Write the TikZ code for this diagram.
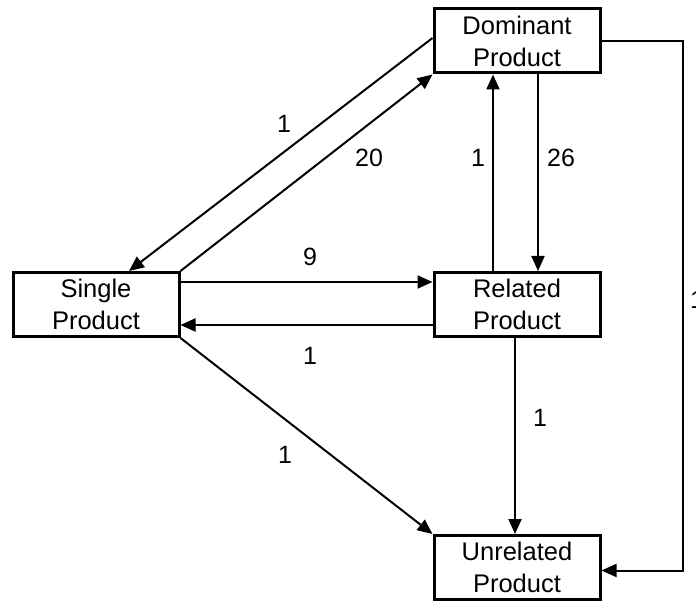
\documentclass[tikz,border=0pt]{standalone}
\usepackage{fontspec}
\setmainfont{Liberation Sans}
\usetikzlibrary{arrows.meta,calc}
\begin{document}
\begin{tikzpicture}[x=1pt,y=-1pt,
  box/.style={draw=black,line width=3pt,fill=white,minimum width=166pt,
    minimum height=64pt,inner sep=0pt,align=center,
    font=\fontsize{25.5}{32}\selectfont},
  arr/.style={line width=2pt,-{Triangle[length=15pt,width=13pt]}},
  lbl/.style={font=\fontsize{25}{30}\selectfont,inner sep=0pt}]
  \useasboundingbox (0,0) rectangle (696,601);
  % boxes
  \node[box] (dom) at (517,41)  {Dominant\\Product};
  \node[box] (sgl) at (96,304.5) {Single\\Product};
  \node[box] (rel) at (517,304.5) {Related\\Product};
  \node[box] (unr) at (517,567.5) {Unrelated\\Product};
  % connectors
  \draw[arr] ([yshift=3pt]dom.west) -- ([xshift=33pt]sgl.north);
  \draw[arr] (sgl.north east) -- (dom.south west);
  \draw[arr] ([yshift=22.5pt]sgl.east) -- ([yshift=22.5pt]rel.west);
  \draw[arr] ([yshift=-20.5pt]rel.west) -- ([yshift=-20.5pt]sgl.east);
  \draw[arr] ([xshift=-24pt]rel.north) -- ([xshift=-24pt]dom.south);
  \draw[arr] ([xshift=21pt]dom.south) -- ([xshift=21pt]rel.north);
  \draw[arr] ([xshift=-2pt]rel.south) -- ([xshift=-2pt]unr.north);
  \draw[arr] (sgl.south east) -- (unr.north west);
  \coordinate (rt) at (683,41);
  \draw[arr] (dom.east) -- (rt) |- ([yshift=-3pt]unr.east);
  % labels
  \node[lbl] (l1) at (284,124) {1};
  \node[lbl] (l2) at (369,158) {20};
  \node[lbl] (l3) at (478,158) {1};
  \node[lbl] (l4) at (561,158) {26};
  \node[lbl] (l5) at (310,257) {9};
  \node[lbl] (l6) at (310,356) {1};
  \node[lbl] (l7) at (540,418) {1};
  \node[lbl] (l8) at (285,455) {1};
  \node[lbl] (l9) at (697,300) {1};
\end{tikzpicture}
\end{document}
